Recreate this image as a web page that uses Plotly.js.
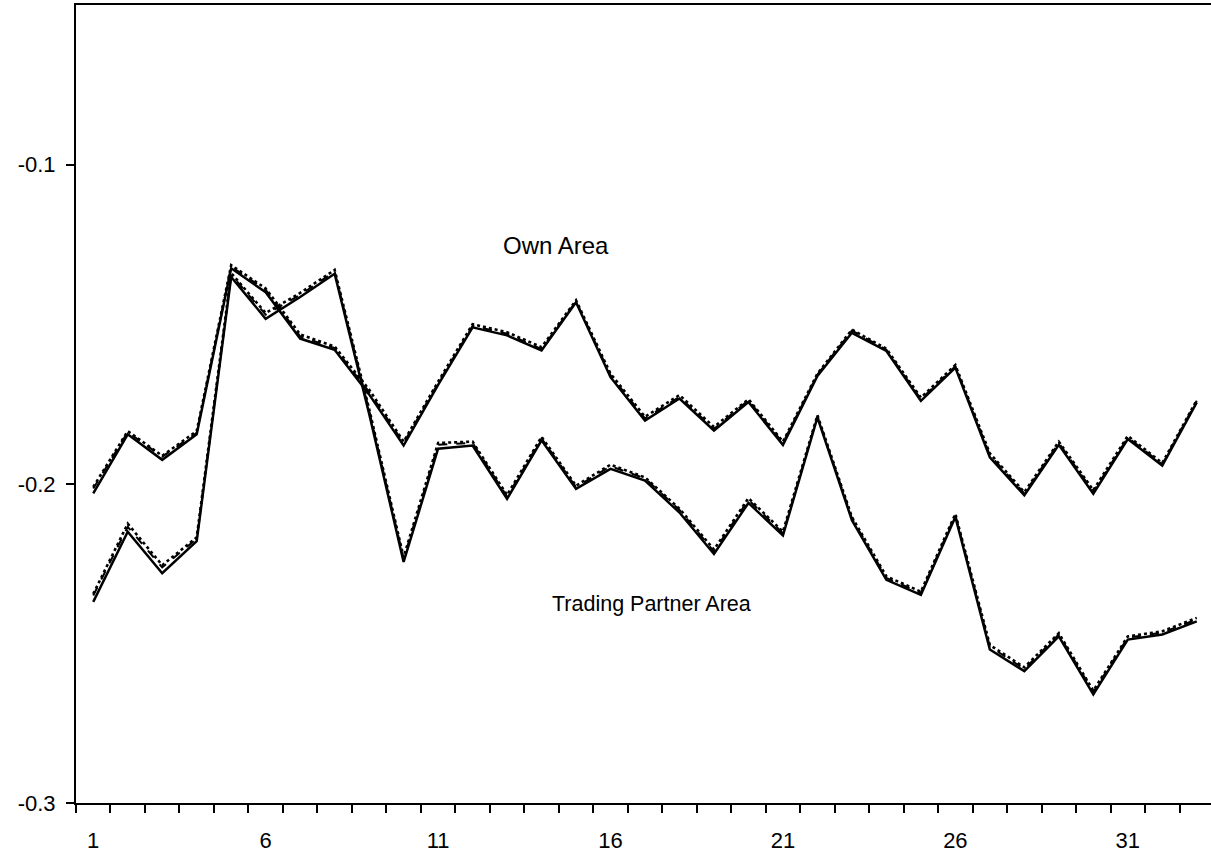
<!DOCTYPE html>
<html>
<head>
<meta charset="utf-8">
<script src="https://cdn.plot.ly/plotly-3.0.1.min.js"></script>
<style>
html, body { margin: 0; padding: 0; background: #fff; overflow: hidden; }
#chart { width: 1215px; height: 860px; }
</style>
</head>
<body>
<div id="chart"></div>
<script>
// Periods (categories on the x axis)
const periods = [1,2,3,4,5,6,7,8,9,10,11,12,13,14,15,16,17,18,19,20,21,22,23,24,25,26,27,28,29,30,31,32,33];
const xTickLabels = [1, 6, 11, 16, 21, 26, 31];
const yTickValues = [-0.3, -0.2, -0.1];

// Own Area (three estimates: solid, dashed, dotted)
const ownSolid = [-0.2030,-0.1845,-0.1925,-0.1845,-0.1325,-0.1400,-0.1545,-0.1580,-0.1720,-0.1880,-0.1690,-0.1510,-0.1535,-0.1582,-0.1431,-0.1666,-0.1802,-0.1733,-0.1833,-0.1744,-0.1878,-0.1662,-0.1527,-0.1584,-0.1740,-0.1636,-0.1917,-0.2036,-0.1878,-0.2031,-0.1860,-0.1943,-0.1745];
const ownDash  = [-0.2015,-0.1838,-0.1915,-0.1840,-0.1320,-0.1392,-0.1538,-0.1575,-0.1712,-0.1872,-0.1685,-0.1505,-0.1530,-0.1578,-0.1428,-0.1660,-0.1795,-0.1728,-0.1828,-0.1738,-0.1872,-0.1658,-0.1520,-0.1580,-0.1735,-0.1632,-0.1910,-0.2030,-0.1872,-0.2025,-0.1855,-0.1938,-0.1740];
const ownDot   = [-0.2010,-0.1835,-0.1912,-0.1835,-0.1315,-0.1388,-0.1532,-0.1570,-0.1705,-0.1868,-0.1680,-0.1500,-0.1525,-0.1572,-0.1425,-0.1655,-0.1790,-0.1722,-0.1822,-0.1735,-0.1868,-0.1655,-0.1517,-0.1577,-0.1730,-0.1628,-0.1905,-0.2026,-0.1868,-0.2020,-0.1850,-0.1935,-0.1738];

// Trading Partner Area (three estimates: solid, dashed, dotted)
const tradeSolid = [-0.2370,-0.2150,-0.2280,-0.2180,-0.1352,-0.1483,-0.1415,-0.1342,-0.1780,-0.2245,-0.1890,-0.1880,-0.2047,-0.1864,-0.2016,-0.1953,-0.1990,-0.2090,-0.2220,-0.2060,-0.2162,-0.1792,-0.2114,-0.2301,-0.2348,-0.2104,-0.2519,-0.2587,-0.2478,-0.2660,-0.2488,-0.2472,-0.2431];
const tradeDash  = [-0.2350,-0.2135,-0.2262,-0.2172,-0.1345,-0.1470,-0.1408,-0.1335,-0.1770,-0.2235,-0.1878,-0.1872,-0.2040,-0.1858,-0.2010,-0.1945,-0.1983,-0.2082,-0.2212,-0.2050,-0.2155,-0.1788,-0.2108,-0.2295,-0.2342,-0.2098,-0.2510,-0.2580,-0.2472,-0.2652,-0.2482,-0.2466,-0.2425];
const tradeDot   = [-0.2345,-0.2125,-0.2255,-0.2168,-0.1340,-0.1465,-0.1402,-0.1330,-0.1765,-0.2230,-0.1872,-0.1868,-0.2035,-0.1853,-0.2006,-0.1940,-0.1980,-0.2078,-0.2206,-0.2045,-0.2150,-0.1785,-0.2104,-0.2290,-0.2338,-0.2094,-0.2505,-0.2575,-0.2468,-0.2648,-0.2478,-0.2462,-0.2420];

const labelOwn = "Own Area";
const labelTrade = "Trading Partner Area";

function line(y, dash, w) {
  return { x: periods, y: y, type: 'scatter', mode: 'lines',
           line: { color: '#000', width: w, dash: dash }, showlegend: false, hoverinfo: 'skip' };
}

const data = [
  line(ownDot, 'dot', 2.6), line(ownDash, 'dash', 2), line(ownSolid, 'solid', 2.5),
  line(tradeDot, 'dot', 2.6), line(tradeDash, 'dash', 2), line(tradeSolid, 'solid', 2.5)
];

const minorVals = [];
for (let i = 0; i <= periods.length; i++) minorVals.push(periods[0] - 0.5 + i);

const layout = {
  width: 1215, height: 860,
  margin: { l: 76, r: 1, t: 5, b: 57 },
  paper_bgcolor: '#fff', plot_bgcolor: '#fff',
  font: { family: 'Liberation Sans, Arial, sans-serif', color: '#000', size: 22 },
  xaxis: {
    range: [0.5, 33.5], showgrid: false, zeroline: false,
    showline: true, linecolor: '#000', linewidth: 2, mirror: true,
    tickmode: 'array', tickvals: xTickLabels, ticktext: xTickLabels.map(String),
    ticks: 'outside', ticklen: 8, tickcolor: 'rgba(0,0,0,0)', ticklabelstandoff: 9,
    tickfont: { size: 22 },
    minor: { tickmode: 'array', tickvals: minorVals, ticks: 'outside', ticklen: 8, tickwidth: 2, tickcolor: '#000', showgrid: false }
  },
  yaxis: {
    range: [-0.3, -0.05], showgrid: false, zeroline: false,
    showline: true, linecolor: '#000', linewidth: 2,
    tickmode: 'array', tickvals: yTickValues, ticktext: yTickValues.map(v => v.toFixed(1)),
    ticks: 'outside', ticklen: 8, tickwidth: 2, tickcolor: '#000', ticklabelstandoff: 6,
    tickfont: { size: 22 }
  },
  annotations: [
    { x: 14.42, y: -0.1253, xref: 'x', yref: 'y', text: labelOwn, showarrow: false, font: { size: 24 } },
    { x: 17.2, y: -0.2378, xref: 'x', yref: 'y', text: labelTrade, showarrow: false, font: { size: 21.5 } }
  ]
};

Plotly.newPlot('chart', data, layout, { staticPlot: true, displayModeBar: false });
</script>
</body>
</html>
